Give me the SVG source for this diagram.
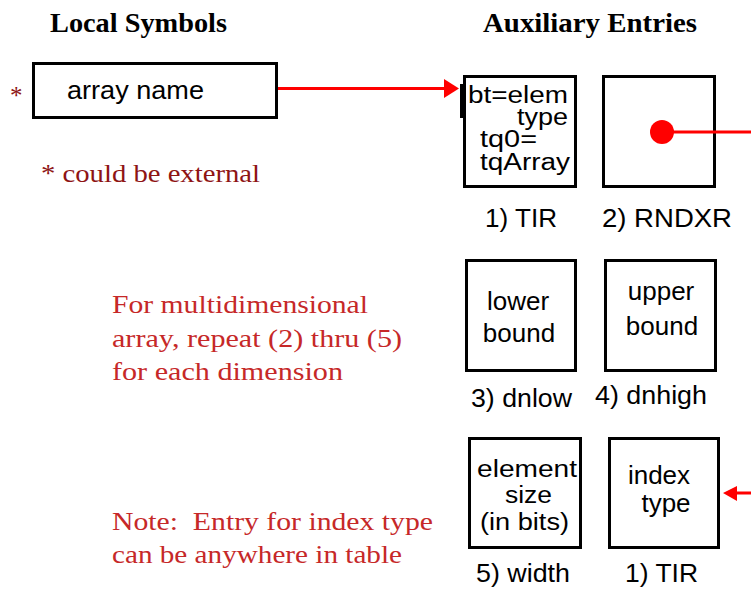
<svg xmlns="http://www.w3.org/2000/svg" width="751" height="589" viewBox="0 0 751 589">
<style>
.box{fill:#fff;stroke:#000;stroke-width:3}
.sans{font-family:"Liberation Sans",Arial,sans-serif;font-size:26px;fill:#000}
.tight{font-size:23px}
.title{font-family:"Liberation Serif","Times New Roman",serif;font-size:27px;font-weight:bold;fill:#000}
.note{font-family:"Liberation Serif","Times New Roman",serif;font-size:25px;fill:#c62828}
.dark{font-family:"Liberation Serif","Times New Roman",serif;font-size:25px;fill:#8e1414}
.conn{stroke:#f00;stroke-width:3;fill:none}
</style>
<rect width="751" height="589" fill="#fff"/>
<text class="title" x="50" y="32" textLength="177" lengthAdjust="spacingAndGlyphs">Local Symbols</text>
<text class="title" x="483" y="32" textLength="214" lengthAdjust="spacingAndGlyphs">Auxiliary Entries</text>

<g id="array-name">
<text class="dark" x="10" y="104">*</text>
<rect class="box" x="33.5" y="63.5" width="243" height="54"/>
<text class="sans" x="67" y="99" textLength="137" lengthAdjust="spacingAndGlyphs">array name</text>
</g>
<text class="dark" x="41" y="182" textLength="219" lengthAdjust="spacingAndGlyphs">* could be external</text>

<g id="tir1">
<rect class="box" x="464.5" y="76.5" width="111" height="110"/>
<rect x="460" y="84" width="5" height="34" fill="#000"/>
<text class="sans tight" x="468" y="103" textLength="100" lengthAdjust="spacingAndGlyphs">bt=elem</text>
<text class="sans tight" x="568" y="125" text-anchor="end" textLength="51" lengthAdjust="spacingAndGlyphs">type</text>
<text class="sans tight" x="480" y="147" textLength="57" lengthAdjust="spacingAndGlyphs">tq0=</text>
<text class="sans tight" x="480" y="170" textLength="90" lengthAdjust="spacingAndGlyphs">tqArray</text>
<text class="sans" x="485" y="227" textLength="72" lengthAdjust="spacingAndGlyphs">1) TIR</text>
</g>

<g id="rndxr">
<rect class="box" x="603.5" y="76.5" width="111" height="110"/>
<text class="sans" x="602" y="227" textLength="130" lengthAdjust="spacingAndGlyphs">2) RNDXR</text>
</g>

<g id="dnlow">
<rect class="box" x="466.5" y="260.5" width="109" height="110"/>
<text class="sans" x="518" y="310" text-anchor="middle">lower</text>
<text class="sans" x="519" y="342" text-anchor="middle">bound</text>
<text class="sans" x="471" y="407" textLength="101" lengthAdjust="spacingAndGlyphs">3) dnlow</text>
</g>

<g id="dnhigh">
<rect class="box" x="605.5" y="260.5" width="110" height="110"/>
<text class="sans" x="661" y="300" text-anchor="middle">upper</text>
<text class="sans" x="662" y="335" text-anchor="middle">bound</text>
<text class="sans" x="595" y="404" textLength="112" lengthAdjust="spacingAndGlyphs">4) dnhigh</text>
</g>

<g id="width">
<rect class="box" x="469.5" y="438.5" width="111" height="109"/>
<text class="sans tight" x="477" y="477" textLength="100" lengthAdjust="spacingAndGlyphs">element</text>
<text class="sans tight" x="505" y="503" textLength="47" lengthAdjust="spacingAndGlyphs">size</text>
<text class="sans tight" x="480" y="530" textLength="89" lengthAdjust="spacingAndGlyphs">(in bits)</text>
<text class="sans" x="476" y="582" textLength="94" lengthAdjust="spacingAndGlyphs">5) width</text>
</g>

<g id="tir2">
<rect class="box" x="609.5" y="438.5" width="109" height="109"/>
<text class="sans" x="659" y="484" text-anchor="middle">index</text>
<text class="sans" x="666" y="512" text-anchor="middle">type</text>
<text class="sans" x="625" y="582" textLength="73" lengthAdjust="spacingAndGlyphs">1) TIR</text>
</g>

<g id="notes">
<text class="note" x="112" y="313" textLength="256" lengthAdjust="spacingAndGlyphs">For multidimensional</text>
<text class="note" x="112" y="347" textLength="290" lengthAdjust="spacingAndGlyphs">array, repeat (2) thru (5)</text>
<text class="note" x="112" y="380" textLength="231" lengthAdjust="spacingAndGlyphs">for each dimension</text>
<text class="note" x="112" y="530" textLength="321" lengthAdjust="spacingAndGlyphs" xml:space="preserve">Note:  Entry for index type</text>
<text class="note" x="112" y="563" textLength="290" lengthAdjust="spacingAndGlyphs">can be anywhere in table</text>
</g>

<g id="connectors">
<line class="conn" x1="278" y1="88.5" x2="446" y2="88.5"/>
<polygon points="444,79 459,88.5 444,98" fill="#f00"/>
<circle cx="662" cy="132" r="12" fill="#f00"/>
<line class="conn" x1="662" y1="132" x2="751" y2="132"/>
<line class="conn" x1="734" y1="493" x2="751" y2="493"/>
<polygon points="723,493 737,486 737,501" fill="#f00"/>
</g>
</svg>
